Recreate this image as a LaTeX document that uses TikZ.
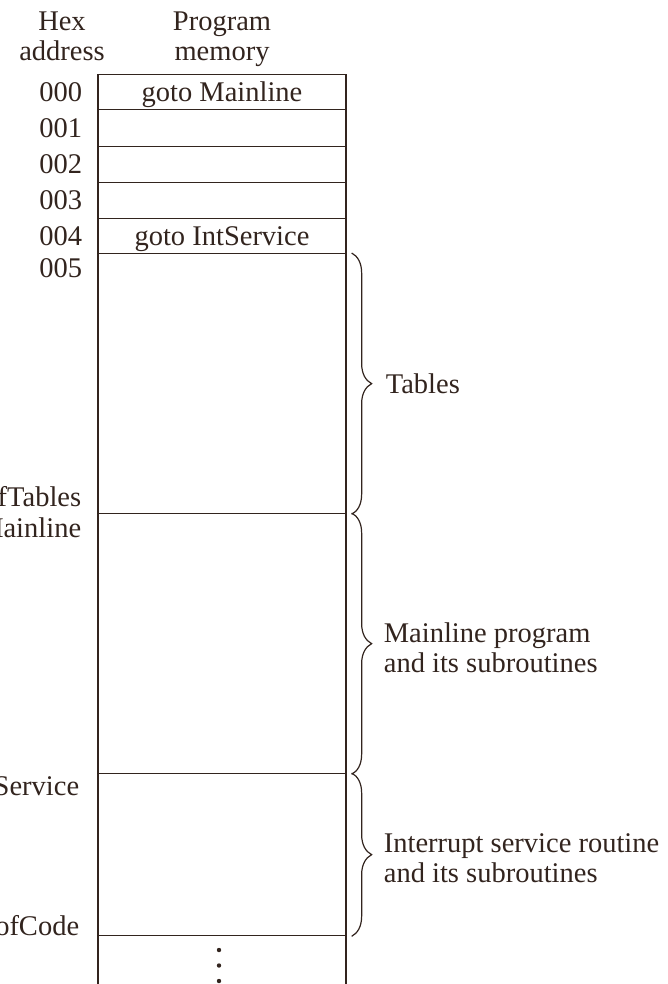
\documentclass[tikz,border=0pt]{standalone}
\usepackage{fontspec}
\setmainfont{Liberation Serif}
\usetikzlibrary{positioning,decorations.pathreplacing}

\definecolor{ink}{RGB}{50,36,30}

\tikzset{
  cell/.style={draw=ink, line width=1.3pt, minimum width=248pt, inner sep=0pt, anchor=north, text=ink, text height=18.5pt, text depth=0pt},
  addr/.style={inner sep=0pt, text=ink},
  note/.style={inner sep=0pt, text=ink, align=left},
  memsplit/.style={draw=ink, line width=1.2pt, decorate, decoration={brace, amplitude=20pt, raise=5pt}},
}

\begin{document}
\begin{tikzpicture}[x=1pt, y=-1pt, font=\fontsize{28.5}{30}\selectfont]
    \clip (0,0) rectangle (668,984);

    % column headings
    \node[note, align=center, anchor=north] (hexhead) at (62,12) {Hex\\address};
    \node[note, align=center, anchor=north] (memhead) at (222,12) {Program\\memory};

    % vector locations
    \foreach \ytop/\hgt/\txt [count=\i from 0] in {74/35/goto Mainline, 109/37/{}, 146/36/{}, 182/36/{}, 218/35/goto IntService} {
      \node[cell, minimum height=\hgt pt] (c\i) at (222,\ytop) {\txt};
      \node[addr, left=15pt of c\i] (a\i) {00\i};
    }

    % program areas
    \node[cell, minimum height=260pt] (tab) at (222,253) {};
    \node[cell, minimum height=260pt] (main) at (222,513) {};
    \node[cell, minimum height=162pt] (isr) at (222,773) {};
    \node[cell, minimum height=80pt] (rest) at (222,935) {};

    \node[addr, anchor=base east] (a5) at ([xshift=-15pt, yshift=-24pt]tab.north west) {005};
    \node[addr, anchor=base east] (endtab) at ([xshift=-16pt, yshift=8pt]tab.south west) {EndofTables};
    \node[addr, anchor=base east] (mainlbl) at ([xshift=-16pt, yshift=-24pt]main.north west) {Mainline};
    \node[addr, anchor=base east] (isrlbl) at ([xshift=-18pt, yshift=-22pt]isr.north west) {IntService};
    \node[addr, anchor=base east] (endcode) at ([xshift=-18pt, yshift=1pt]isr.south west) {EndofCode};

    % braces
    \draw[memsplit] (tab.north east) -- (tab.south east);
    \draw[memsplit] (main.north east) -- (main.south east);
    \draw[memsplit] (isr.north east) -- (isr.south east);

    \node[note, right=39pt of tab.east] (tabnote) {Tables};
    \node[note, right=37pt of main.east, yshift=-4pt] (mainnote) {Mainline program\\and its subroutines};
    \node[note, right=37pt of isr.east, yshift=-4pt] (isrnote) {Interrupt service routine\\and its subroutines};

    % more memory
    \foreach \k in {0,1,2} {
      \fill[ink] ([xshift=-3pt, yshift={-(15+15.5*\k)*1pt}]rest.north) circle (2.2pt);
    }

\end{tikzpicture}
\end{document}
